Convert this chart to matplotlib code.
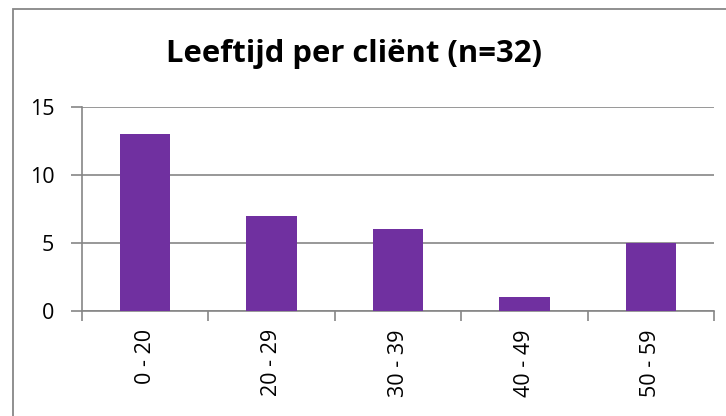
import matplotlib
matplotlib.use("Agg")
import matplotlib.pyplot as plt
from matplotlib.patches import Rectangle

categories = ["0 - 20", "20 - 29", "30 - 39", "40 - 49", "50 - 59"]
values = [13, 7, 6, 1, 5]
yticks = [0, 5, 10, 15]
title = "Leeftijd per cliënt (n=32)"

plt.rcParams['font.family'] = ['Open Sans', 'DejaVu Sans']

W, H = 726, 416
fig = plt.figure(figsize=(W/100, H/100), dpi=100)
fig.patch.set_facecolor("white")

# outer chart border (continues past the right and bottom edges of the image)
fig.add_artist(Rectangle((12.5/W, -10/H), (740-12.5)/W, (416-8.5+10)/H, transform=fig.transFigure,
                         fill=False, edgecolor="#878787", linewidth=1.3))

ax = fig.add_axes([82/W, 1 - 311/H, (714-82)/W, (311-107)/H])
grid = "#868686"
x = list(range(len(categories)))
ax.bar(x, values, width=0.4, color="#7030A0", zorder=3)
ax.set_xlim(-0.5, len(categories) - 0.5)
ax.set_ylim(0, 15)
ax.set_yticks(yticks)
ax.set_yticklabels([str(v) for v in yticks], fontsize=15.5)
ax.yaxis.grid(True, color=grid, linewidth=1.2, zorder=0)
ax.set_axisbelow(True)
ax.set_xticks([i - 0.5 for i in range(len(categories) + 1)])
ax.set_xticklabels([])
ax.set_xticks(x, minor=True)
ax.set_xticklabels(categories, minor=True, rotation=90, fontsize=15.5)
ax.tick_params(axis="x", which="minor", length=0, pad=13)
ax.tick_params(axis="x", which="major", length=7, color=grid, width=1.2, direction="out")
ax.tick_params(axis="y", length=8, color=grid, width=1.2, pad=12)
for s in ["top", "right"]:
    ax.spines[s].set_visible(False)
for s in ["left", "bottom"]:
    ax.spines[s].set_color(grid)
    ax.spines[s].set_linewidth(1.2)

fig.text(354/W, 1 - 54/H, title, ha="center", va="center", fontsize=22.3, fontweight="bold")

fig.savefig("out.png", dpi=100)
